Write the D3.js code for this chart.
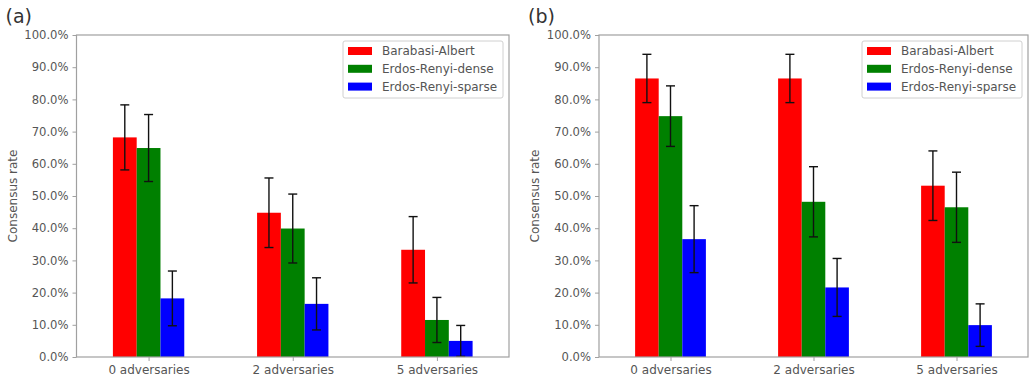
<!DOCTYPE html>
<html>
<head>
<meta charset="utf-8">
<script src="https://cdn.jsdelivr.net/npm/d3@7"></script>
<style>
  body { margin: 0; background: #fff; }
  svg { display: block; font-family: "DejaVu Sans", sans-serif; }
</style>
</head>
<body>
<div id="chart"></div>
<script>
// categories and series
var categories = ["0 adversaries", "2 adversaries", "5 adversaries"];
var seriesNames = ["Barabasi-Albert", "Erdos-Renyi-dense", "Erdos-Renyi-sparse"];
var seriesColors = ["#ff0000", "#008000", "#0000ff"];
var yTicks = [0, 10, 20, 30, 40, 50, 60, 70, 80, 90, 100];

// panel (a) values and error half widths, percent
var aBA = [68.2, 44.8, 33.3];
var aERd = [64.9, 39.9, 11.5];
var aERs = [18.2, 16.5, 5.0];
var aBAerr = [10.1, 10.8, 10.3];
var aERdErr = [10.4, 10.7, 7.0];
var aERsErr = [8.5, 8.1, 4.8];

// panel (b)
var bBA = [86.5, 86.5, 53.2];
var bERd = [74.8, 48.2, 46.5];
var bERs = [36.6, 21.6, 9.9];
var bBAerr = [7.5, 7.5, 10.8];
var bERdErr = [9.4, 10.9, 10.9];
var bERsErr = [10.4, 9.0, 6.6];

var W = 1032, H = 381;
var svg = d3.select("#chart").append("svg")
  .attr("width", W)
  .attr("height", H);

var textColor = "#555";
var spineColor = "#a0a0a0";

function drawPanel(label, left, right, values, errs) {
  var top = 35, bottom = 357;
  var g = svg.append("g");

  var x = d3.scaleLinear().domain([-0.5, 2.5]).range([left, right]);
  var y = d3.scaleLinear().domain([0, 100]).range([bottom, top]);
  var barW = 0.165;

  // bars + error bars
  values.forEach(function(vals, s) {
    var off = (s - 1) * barW;
    g.selectAll(null).data(vals).enter().append("rect")
      .attr("x", function(d, i) { return x(i + off - barW / 2); })
      .attr("y", function(d) { return y(d); })
      .attr("width", function() { return x(barW) - x(0); })
      .attr("height", function(d) { return y(0) - y(d); })
      .attr("fill", seriesColors[s]);

    var eg = g.selectAll(null).data(vals).enter().append("g")
      .attr("stroke", "#111")
      .attr("stroke-width", 1.4);
    eg.append("line")
      .attr("x1", function(d, i) { return x(i + off); })
      .attr("x2", function(d, i) { return x(i + off); })
      .attr("y1", function(d, i) { return y(Math.max(0, d - errs[s][i])); })
      .attr("y2", function(d, i) { return y(d + errs[s][i]); });
    [-1, 1].forEach(function(sign) {
      eg.append("line")
        .attr("x1", function(d, i) { return x(i + off) - 4.5; })
        .attr("x2", function(d, i) { return x(i + off) + 4.5; })
        .attr("y1", function(d, i) { return y(Math.max(0, d + sign * errs[s][i])); })
        .attr("y2", function(d, i) { return y(Math.max(0, d + sign * errs[s][i])); });
    });
  });

  // axes
  var yAxis = d3.axisLeft(y).tickValues(yTicks).tickSize(4).tickPadding(4)
    .tickFormat(function(d) { return d.toFixed(1) + "%"; });
  var ya = g.append("g").attr("transform", "translate(" + left + ",0)").call(yAxis);
  ya.select(".domain").remove();
  ya.selectAll("line").attr("stroke", spineColor);
  ya.selectAll("text").attr("fill", textColor).style("font-size", "11.6px")
    .style("font-family", "DejaVu Sans, sans-serif");

  var xAxis = d3.axisBottom(x).tickValues([0, 1, 2]).tickSize(4).tickPadding(4)
    .tickFormat(function(d) { return categories[d]; });
  var xa = g.append("g").attr("transform", "translate(0," + bottom + ")").call(xAxis);
  xa.select(".domain").remove();
  xa.selectAll("line").attr("stroke", spineColor);
  xa.selectAll("text").attr("fill", textColor).style("font-size", "12px")
    .style("font-family", "DejaVu Sans, sans-serif");

  // frame
  g.append("rect")
    .attr("x", left).attr("y", top)
    .attr("width", right - left).attr("height", bottom - top)
    .attr("fill", "none")
    .attr("stroke", spineColor)
    .attr("stroke-width", 1.2);

  // y label
  g.append("text")
    .attr("transform", "translate(" + (left - 64) + "," + ((top + bottom) / 2) + ") rotate(-90)")
    .attr("text-anchor", "middle")
    .attr("dominant-baseline", "central")
    .attr("fill", textColor)
    .style("font-size", "12px")
    .text("Consensus rate");

  // panel label
  g.append("text")
    .attr("x", left - 71)
    .attr("y", 23)
    .attr("fill", "#333")
    .style("font-size", "19px")
    .text(label);

  // legend
  var lx = right - 166, ly = 41;
  g.append("rect")
    .attr("x", lx).attr("y", ly)
    .attr("width", 160).attr("height", 57)
    .attr("rx", 2)
    .attr("fill", "#fff")
    .attr("stroke", "#d0d0d0");
  seriesNames.forEach(function(name, s) {
    var ry = ly + 10 + s * 17.8;
    g.append("rect")
      .attr("x", lx + 5).attr("y", ry - 4)
      .attr("width", 24).attr("height", 8)
      .attr("fill", seriesColors[s]);
    g.append("text")
      .attr("x", lx + 39).attr("y", ry)
      .attr("dominant-baseline", "central")
      .attr("fill", textColor)
      .style("font-size", "12px")
      .text(name);
  });
}

drawPanel("(a)", 76.5, 509, [aBA, aERd, aERs], [aBAerr, aERdErr, aERsErr]);
drawPanel("(b)", 599, 1028, [bBA, bERd, bERs], [bBAerr, bERdErr, bERsErr]);
</script>
</body>
</html>
